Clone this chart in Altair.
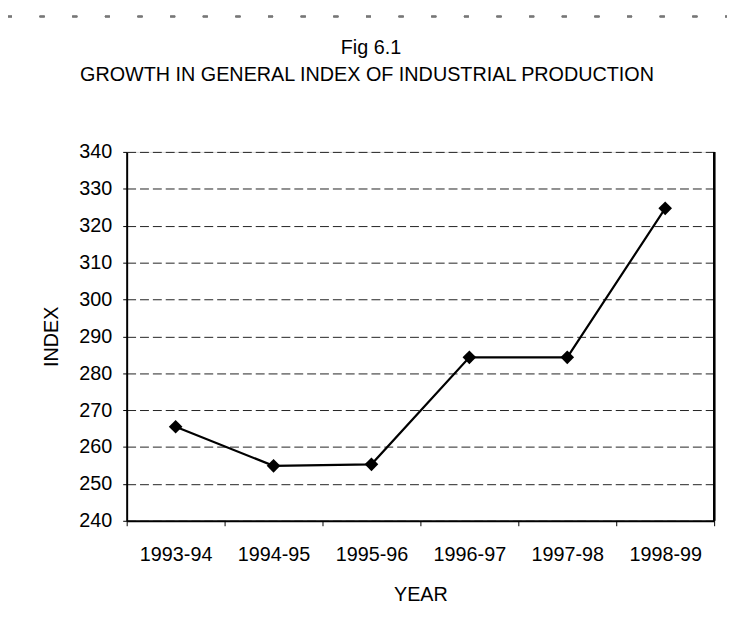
import altair as alt
import pandas as pd

years = ["1993-94", "1994-95", "1995-96", "1996-97", "1997-98", "1998-99"]
index_values = [265.5, 254.9, 255.3, 284.3, 284.3, 324.7]
y_ticks = [240, 250, 260, 270, 280, 290, 300, 310, 320, 330, 340]
fig_title = "Fig 6.1"
fig_subtitle = "GROWTH IN GENERAL INDEX OF INDUSTRIAL PRODUCTION"

df = pd.DataFrame({"year": years, "index": index_values})

FONT = "Liberation Sans"
W, H = 594, 373

x_enc = alt.X(
    "year:N",
    sort=years,
    scale=alt.Scale(paddingInner=0, paddingOuter=0),
    axis=alt.Axis(
        title="YEAR",
        labelAngle=0,
        labelFontSize=20,
        labelFont=FONT,
        labelColor="black",
        labelPadding=19,
        tickBand="extent",
        tickSize=5,
        tickColor="black",
        domainColor="black",
        domainWidth=2,
        titleFontSize=20,
        titleFont=FONT,
        titleFontWeight="normal",
        titleColor="black",
        titlePadding=21,
        grid=False,
    ),
)
y_enc = alt.Y(
    "index:Q",
    scale=alt.Scale(domain=[240, 340], nice=False, zero=False),
    axis=alt.Axis(
        title="INDEX",
        values=y_ticks,
        labelFontSize=20,
        labelFont=FONT,
        labelColor="black",
        labelPadding=11,
        tickSize=4,
        tickColor="black",
        domainColor="black",
        domainWidth=2,
        titleFontSize=20,
        titleFont=FONT,
        titleFontWeight="normal",
        titleColor="black",
        titlePadding=18,
        grid=True,
        gridColor="#222222",
        gridDash=[9, 4],
        gridWidth=1,
    ),
)

line = alt.Chart(df).mark_line(color="black", strokeWidth=2.2).encode(x=x_enc, y=y_enc)
pts = alt.Chart(df).mark_point(
    shape="diamond", filled=True, color="black", size=190, opacity=1
).encode(x=x_enc, y=y_enc)

right_border = alt.Chart(df).mark_rule(color="black", strokeWidth=2).encode(
    x=alt.value(W), y=alt.value(0), y2=alt.value(H)
)
frame_left = alt.Chart(df).mark_rule(color="#555555", strokeWidth=1.5).encode(
    x=alt.value(-121), y=alt.value(-137), y2=alt.value(487)
)
frame_top = alt.Chart(df).mark_rule(color="#777777", strokeWidth=1.5, strokeDash=[5, 28]).encode(
    x=alt.value(-121), x2=alt.value(607), y=alt.value(-137)
)

title_df = pd.DataFrame({"t": [fig_title]})
sub_df = pd.DataFrame({"t": [fig_subtitle]})
title_txt = alt.Chart(title_df).mark_text(
    font=FONT, fontSize=20, color="black", align="center", baseline="middle"
).encode(text="t:N", x=alt.value(247), y=alt.value(-105))
sub_txt = alt.Chart(sub_df).mark_text(
    font=FONT, fontSize=20, color="black", align="center", baseline="middle"
).encode(text="t:N", x=alt.value(243), y=alt.value(-78))

chart = (
    alt.layer(frame_left, frame_top, right_border, line, pts, title_txt, sub_txt)
    .properties(
        width=W,
        height=H,
        autosize=alt.AutoSizeParams(type="none"),
        padding={"left": 120, "top": 142, "right": 13, "bottom": 114},
    )
    .configure_view(stroke=None)
    .configure(background="white")
)

chart.save("out.html", embed_options={"renderer": "svg", "actions": False})
